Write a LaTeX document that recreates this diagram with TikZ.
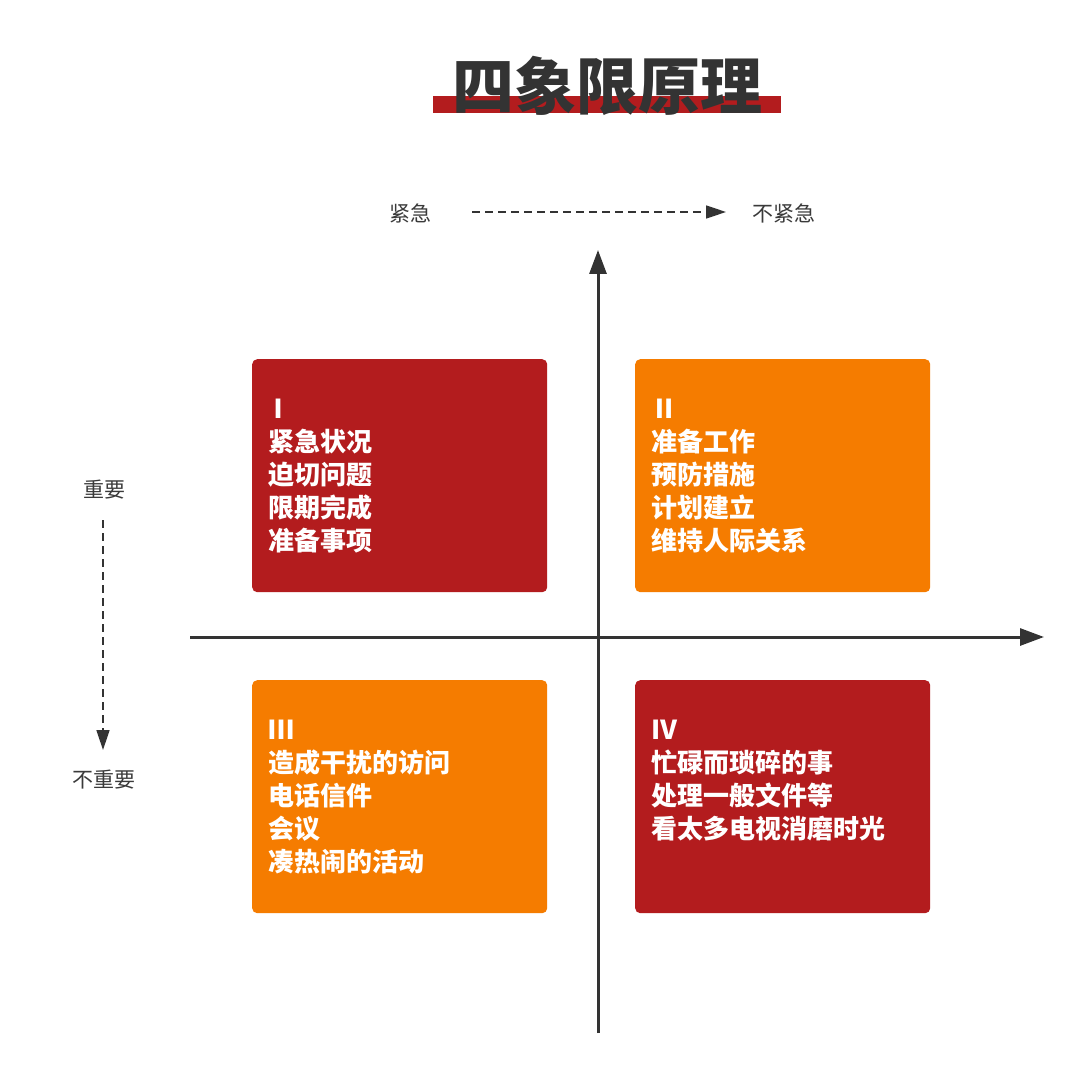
\documentclass[tikz,border=0pt]{standalone}
\usepackage{fontspec}
\newfontfamily\cjk{Noto Sans CJK SC}
\usetikzlibrary{arrows.meta}
\definecolor{qred}{HTML}{B31C1E}
\definecolor{qorange}{HTML}{F57C00}
\definecolor{axisgray}{HTML}{333333}
\definecolor{txtgray}{HTML}{3A3A3A}
\begin{document}
\begin{tikzpicture}[x=1pt,y=-1pt,
  quad/.style={rounded corners=5pt, minimum width=295pt, minimum height=233pt, inner sep=0pt, anchor=north west},
  qtext/.style={text=white, font=\cjk\bfseries\fontsize{26}{33}\selectfont, align=left, anchor=north west, inner sep=0pt},
  lbl/.style={text=txtgray, font=\cjk\fontsize{21}{24}\selectfont, inner sep=0pt},
  axisline/.style={draw=axisgray, line width=3pt, -{Triangle[length=24pt,width=17pt]}},
  dasharrow/.style={draw=axisgray, line width=1.5pt, dash pattern=on 8pt off 5pt, -{Triangle[length=20pt,width=13pt]}}
]
\useasboundingbox[fill=white] (0,0) rectangle (1080,1078);

% title
\fill[qred] (433,96) rectangle (781,113);
\node[text=axisgray, font=\cjk\bfseries\fontsize{62}{66}\selectfont, inner sep=0pt] (title) at (607,86) {四象限原理};

% quadrants
\node[quad, fill=qred] (q1) at (252,359) {};
\node[quad, fill=qorange] (q2) at (635,359) {};
\node[quad, fill=qorange] (q3) at (252,680) {};
\node[quad, fill=qred] (q4) at (635,680) {};

\node[qtext] (t1) at (268,399) {\hspace{-3pt}Ⅰ\\紧急状况\\迫切问题\\限期完成\\准备事项};
\node[qtext] (t2) at (651,399) {Ⅱ\\准备工作\\预防措施\\计划建立\\维持人际关系};
\node[qtext] (t3) at (268,720) {Ⅲ\\造成干扰的访问\\电话信件\\会议\\凑热闹的活动};
\node[qtext] (t4) at (651,720) {Ⅳ\\忙碌而琐碎的事\\处理一般文件等\\看太多电视消磨时光};

% axes
\coordinate (vb) at (598,1033);
\coordinate (vt) at (598,250);
\coordinate (hl) at (190,637);
\coordinate (hr) at (1044,637);
\draw[axisline] (vb) -- (vt);
\draw[axisline] (hl) -- (hr);

% labels
\node[lbl] (urgent) at (410,213) {紧急};
\node[lbl] (noturgent) at (784,213) {不紧急};
\node[lbl] (imp) at (104,490) {重要};
\node[lbl] (notimp) at (104,780) {不重要};

\coordinate (ds1) at (472,212);
\coordinate (de1) at (726,212);
\coordinate (ds2) at (103,520);
\coordinate (de2) at (103,750);
\draw[dasharrow] (ds1) -- (de1);
\draw[dasharrow] (ds2) -- (de2);
\end{tikzpicture}
\end{document}
